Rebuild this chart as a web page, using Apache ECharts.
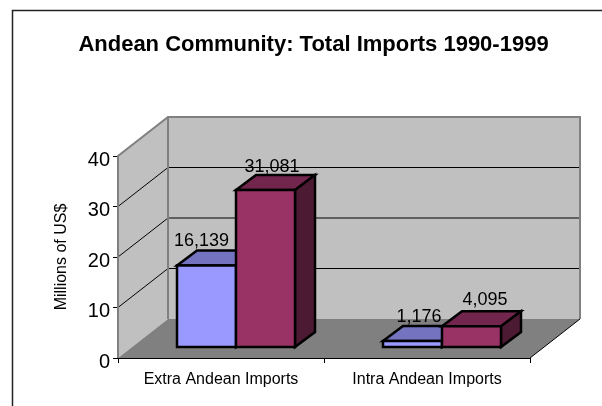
<!DOCTYPE html>
<html><head><meta charset="utf-8">
<style>html,body{margin:0;padding:0;background:#fff}#c{width:602px;height:406px}</style>
<script src="https://cdn.jsdelivr.net/npm/echarts@6/dist/echarts.min.js"></script>
</head><body><div id="c"></div>
<script>
var categories = ["Extra Andean Imports", "Intra Andean Imports"];
var extraSeries = [16.139, 1.176];
var intraSeries = [31.081, 4.095];
var extraLabels = ["16,139", "1,176"];
var intraLabels = ["31,081", "4,095"];
var yTicks = [0, 10, 20, 30, 40];
var FONT = '"Liberation Sans", Arial, sans-serif';
var WALL = [50, -39], BAR = [20, -15], BASE = [15, -11], BAR_W = 59;
var extraNudge = [[24.6, -4], [36, -4.3]];
var intraNudge = [[36, -3], [43, -6.7]];

function poly(points, fill, stroke, lw) {
  return {type: 'polygon', shape: {points: points},
    style: {fill: fill, stroke: stroke || 'none', lineWidth: lw || 0, lineJoin: 'miter'}};
}
function line(x1, y1, x2, y2, stroke, lw) {
  return {type: 'line', shape: {x1: x1, y1: y1, x2: x2, y2: y2}, style: {stroke: stroke, lineWidth: lw}};
}
function renderWalls(params, api) {
  var x0 = params.coordSys.x, x1 = x0 + params.coordSys.width;
  var y0 = api.coord([0, 0])[1], yT = api.coord([0, 40])[1];
  var dx = WALL[0], dy = WALL[1], ch = [];
  ch.push(poly([[x0, y0], [x0 + dx, y0 + dy], [x0 + dx, yT + dy], [x0, yT]], '#c0c0c0'));
  ch.push(poly([[x0 + dx, y0 + dy], [x1 + dx, y0 + dy], [x1 + dx, yT + dy], [x0 + dx, yT + dy]], '#c0c0c0'));
  ch.push(poly([[x0, y0], [x1, y0], [x1 + dx, y0 + dy], [x0 + dx, y0 + dy]], '#808080'));
  yTicks.slice(1, -1).forEach(function (t) {
    var y = api.coord([0, t])[1];
    ch.push(line(x0, y, x0 + dx, y + dy, '#000', 1));
    ch.push(line(x0 + dx, y + dy, x1 + dx, y + dy, '#000', 1));
  });
  ch.push({type: 'polyline', shape: {points: [[x0, y0], [x0, yT], [x0 + dx, yT + dy], [x1 + dx, yT + dy], [x1 + dx, y0 + dy]]},
    style: {fill: 'none', stroke: '#808080', lineWidth: 2}});
  ch.push(line(x0 + dx, yT + dy, x0 + dx, y0 + dy, '#808080', 2));
  ch.push(line(x1, y0, x1 + dx, y0 + dy, '#000', 1));
  return {type: 'group', children: ch};
}
function barRenderer(colors, side, labels, nudge) {
  return function (params, api) {
    var c = api.coord([api.value(0), api.value(1)]);
    var base = api.coord([api.value(0), 0]);
    var lft = (side === 0 ? c[0] - BAR_W : c[0]) + BASE[0];
    var rgt = lft + BAR_W;
    var top = c[1] + BASE[1], bot = base[1] + BASE[1];
    var dx = BAR[0], dy = BAR[1], k = '#000', lw = 2.5;
    var n = nudge[params.dataIndex];
    return {type: 'group', children: [
      poly([[lft, top], [rgt, top], [rgt + dx, top + dy], [lft + dx, top + dy]], colors[1], k, lw),
      poly([[rgt, bot], [rgt + dx, bot + dy], [rgt + dx, top + dy], [rgt, top]], colors[2], k, lw),
      poly([[lft, bot], [rgt, bot], [rgt, top], [lft, top]], colors[0], k, lw),
      {type: 'text', x: lft + n[0], y: top + dy + n[1] + 4,
        style: {text: labels[params.dataIndex], fill: '#000', font: '18px ' + FONT, align: 'center', verticalAlign: 'bottom'}}
    ]};
  };
}
var chart = echarts.init(document.getElementById('c'), null, {renderer: 'canvas'});
chart.setOption({
  animation: false,
  backgroundColor: '#fff',
  title: {text: 'Andean Community: Total Imports 1990-1999', left: 308.5, top: 29, textAlign: 'center',
    textStyle: {fontFamily: FONT, fontWeight: 'bold', fontSize: 22, color: '#000'}},
  grid: {left: 118, right: 72, top: 156, bottom: 48},
  xAxis: {type: 'category', data: categories,
    axisLine: {lineStyle: {color: '#000', width: 1}},
    axisTick: {show: true, length: 5, alignWithLabel: false, lineStyle: {color: '#000'}},
    axisLabel: {fontFamily: FONT, fontSize: 16, color: '#000', margin: 14}},
  yAxis: {type: 'value', min: 0, max: 40, interval: 10,
    name: 'Millions of US$', nameLocation: 'middle', nameGap: 48, nameRotate: 90,
    nameTextStyle: {fontFamily: FONT, fontSize: 16, color: '#000'},
    axisLine: {show: true, lineStyle: {color: '#707070', width: 1.5}},
    axisTick: {show: true, length: 5, lineStyle: {color: '#000'}},
    axisLabel: {fontFamily: FONT, fontSize: 20, color: '#000', margin: 8, verticalAlign: 'top', lineHeight: 8},
    splitLine: {show: false}},
  series: [
    {type: 'custom', z: 1, silent: true, data: [[0, 0]], renderItem: renderWalls, encode: {x: 0, y: 1}},
    {type: 'custom', z: 2, data: categories.map(function (_, i) { return [i, extraSeries[i]]; }),
      renderItem: barRenderer(['#9999ff', '#7373bf', '#4d4d80'], 0, extraLabels, extraNudge), encode: {x: 0, y: 1}},
    {type: 'custom', z: 3, data: categories.map(function (_, i) { return [i, intraSeries[i]]; }),
      renderItem: barRenderer(['#993366', '#73264d', '#4d1a33'], 1, intraLabels, intraNudge), encode: {x: 0, y: 1}}
  ],
  graphic: [{type: 'polyline', z: 100, silent: true, shape: {points: [[12.5, 406], [12.5, 10.5], [602, 10.5]]},
    style: {fill: 'none', stroke: '#222', lineWidth: 1.5}}]
});
</script></body></html>
